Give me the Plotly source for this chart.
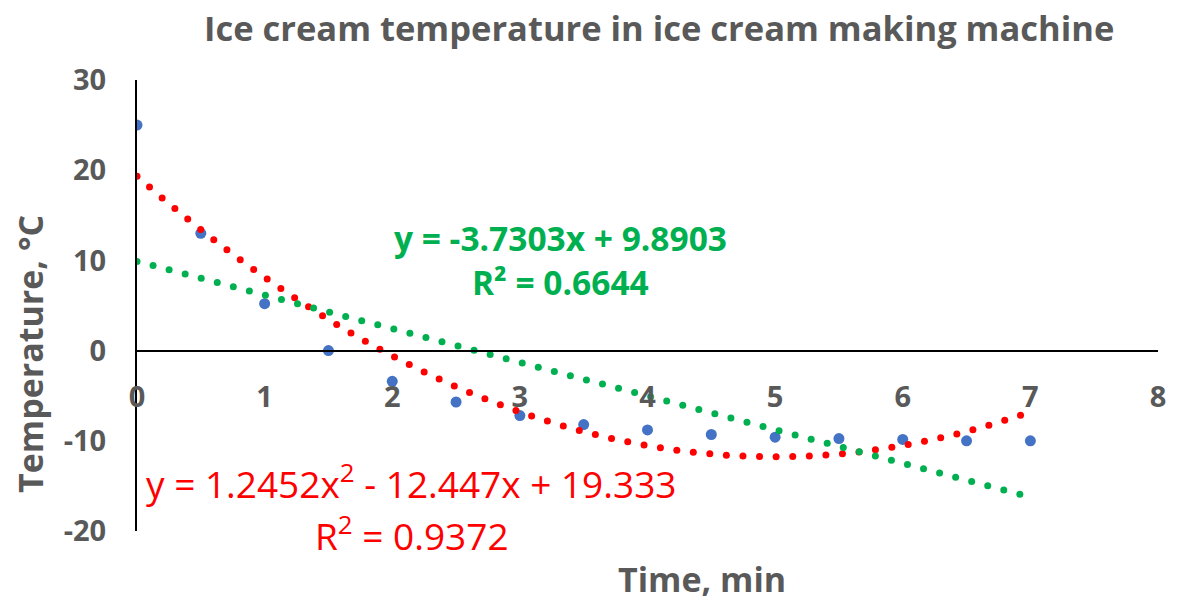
import numpy as np
import plotly.graph_objects as go

# ---- data ----
time_min = [0, 0.5, 1, 1.5, 2, 2.5, 3, 3.5, 4, 4.5, 5, 5.5, 6, 6.5, 7]
temp_c = [25, 13, 5.2, 0, -3.4, -5.7, -7.2, -8.2, -8.8, -9.3, -9.6, -9.75, -9.85, -10, -10]
lin_coef = [-3.7303, 9.8903]            # slope, intercept
poly_coef = [1.2452, -12.447, 19.333]   # a, b, c
lin_label = ["y = -3.7303x + 9.8903", "R² = 0.6644"]
poly_label = ["y = 1.2452x<sup>2</sup> - 12.447x + 19.333", "R<sup>2</sup> = 0.9372"]
x_ticks = [0, 1, 2, 3, 4, 5, 6, 7, 8]
y_ticks = [-20, -10, 0, 10, 20, 30]
y_ticktext = ["-20", "-10", "0", "10", "20", "30"]

W, H = 1177, 602
ML, MR, MT, MB = 137, 19, 80, 71
PW, PH = W - ML - MR, H - MT - MB
XR = [0, 8]
YR = [-20, 30]
sx = PW / (XR[1] - XR[0])
sy = PH / (YR[1] - YR[0])


def pxx(X):
    return (X - ML) / PW


def pxy(Y):
    return (H - MB - Y) / PH


def dotted(f, x0, x1, spacing=16.6):
    xs = np.linspace(x0, x1, 4000)
    ys = f(xs)
    d = np.concatenate([[0], np.cumsum(np.hypot(np.diff(xs) * sx, np.diff(ys) * sy))])
    targets = np.arange(0, d[-1] + 1e-9, spacing)
    px = np.interp(targets, d, xs)
    return px, f(px)


lin_f = lambda x: np.polyval(lin_coef, x)
poly_f = lambda x: np.polyval(poly_coef, x)
lx, ly = dotted(lin_f, min(time_min), max(time_min))
qx, qy = dotted(poly_f, min(time_min), max(time_min))

GRAY = "#595959"
FONT = "Open Sans"

fig = go.Figure()
fig.add_trace(go.Scatter(x=time_min, y=temp_c, mode="markers",
                         marker=dict(color="#4472C4", size=11), hoverinfo="x+y"))
fig.add_trace(go.Scatter(x=qx, y=qy, mode="markers",
                         marker=dict(color="#FF0000", size=7), hoverinfo="skip"))
fig.add_trace(go.Scatter(x=lx, y=ly, mode="markers",
                         marker=dict(color="#00B050", size=7), hoverinfo="skip"))

fig.update_layout(
    width=W, height=H,
    margin=dict(l=ML, r=MR, t=MT, b=MB),
    paper_bgcolor="white", plot_bgcolor="white",
    showlegend=False,
    xaxis=dict(range=XR, tickvals=x_ticks, showgrid=False, zeroline=False,
               showline=True, linecolor="black", linewidth=2,
               anchor="free", position=(0 - YR[0]) / (YR[1] - YR[0]),
               ticks="outside", ticklen=21, tickcolor="rgba(0,0,0,0)",
               tickfont=dict(family=FONT, size=29, color=GRAY, weight="bold")),
    yaxis=dict(range=YR, tickvals=y_ticks, ticktext=y_ticktext,
               showgrid=False, zeroline=False,
               showline=True, linecolor="black", linewidth=2,
               ticks="outside", ticklen=23, tickcolor="rgba(0,0,0,0)",
               tickfont=dict(family=FONT, size=29, color=GRAY, weight="bold")),
)


def label(text, X, Y, size, color, bold=True, angle=0):
    fig.add_annotation(text=("<b>%s</b>" % text) if bold else text,
                       xref="paper", yref="paper", x=pxx(X), y=pxy(Y),
                       showarrow=False, xanchor="center", yanchor="middle",
                       textangle=angle,
                       font=dict(family=FONT, size=size, color=color))


label("Ice cream temperature in ice cream making machine", 659, 27, 34.5, GRAY)
label("Time, min", 702, 578.5, 34, GRAY)
label("Temperature, °C", 30, 354, 34, GRAY, angle=-90)
label(lin_label[0], 560, 238, 33.5, "#00B050")
label(lin_label[1], 560, 282, 33.5, "#00B050")
label(poly_label[0], 411, 481, 37, "#FF0000", bold=False)
label(poly_label[1], 412, 533, 37, "#FF0000", bold=False)

# remove the page's default 8px body margin so the figure fills the window
fig.write_html("out.html", config={"displayModeBar": False},
               post_script="document.body.style.margin='0';")
